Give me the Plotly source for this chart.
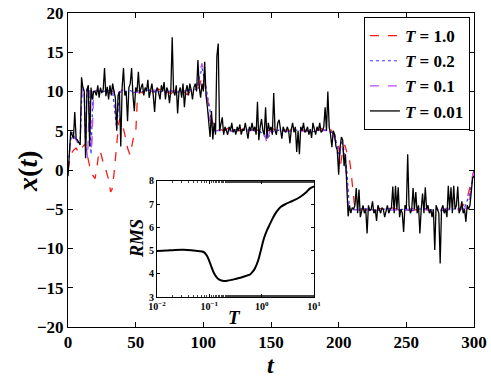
import plotly.graph_objects as go

# time series, T = 0.01 (one sample per unit of t, t = 0..300)
x_t001 = [
    -0.8, 2.0, 4.9, 4.5, 4.0, 7.4, 4.0, 3.8, 3.5, 3.2,
    11.8, 10.5, 10.0, 1.5, 10.2, 10.8, 3.0, 10.5, 9.0, 10.0,
    10.0, 9.5, 10.8, 9.2, 10.5, 9.8, 10.2, 13.0, 9.4, 10.6,
    9.0, 10.8, 9.5, 11.0, 10.0, 9.2, 5.0, 9.5, 10.0, 3.0,
    10.5, 13.0, 9.5, 10.0, 6.2, 10.5, 11.0, 13.0, 9.5, 7.5,
    10.5, 10.0, 12.5, 9.8, 10.5, 11.0, 9.5, 10.5, 10.0, 11.5,
    9.2, 10.0, 11.0, 9.5, 7.4, 10.0, 10.5, 9.8, 9.0, 10.8,
    10.0, 11.2, 9.0, 10.5, 10.0, 8.5, 10.2, 16.9, 10.0, 9.5,
    10.8, 7.2, 10.0, 10.5, 9.2, 11.0, 8.0, 10.0, 10.8, 9.5,
    11.0, 10.2, 9.0, 10.5, 11.0, 10.0, 14.0, 10.5, 9.2, 11.0,
    10.0, 13.8, 9.5, 8.0, 6.5, 4.2, 7.5, 3.9, 6.0, 4.5,
    14.5, 16.1, 5.0, 6.0, 6.7, 4.5, 5.5, 5.0, 4.5, 5.5,
    5.0, 6.0, 4.8, 5.2, 4.5, 5.5, 5.0, 5.8, 4.5, 5.2,
    5.0, 6.0, 4.8, 4.0, 5.5, 5.0, 6.0, 5.0, 5.5, 4.5,
    8.7, 3.8, 5.5, 6.5, 5.0, 4.5, 8.0, 4.0, 6.0, 5.0,
    5.5, 4.5, 9.8, 5.0, 4.5, 6.0, 6.4, 5.0, 4.0, 5.5,
    5.0, 4.8, 5.5, 5.0, 3.4, 5.2, 6.0, 4.8, 5.5, 2.3,
    5.0, 2.0, 5.5, 5.0, 6.0, 4.8, 5.0, 5.5, 4.5, 5.2,
    4.1, 6.0, 5.0, 4.5, 5.5, 5.0, 6.0, 4.8, 5.0, 5.5,
    8.0, 5.0, 10.0, 5.5, 4.5, 2.9, 5.0, 4.5, 3.0, 2.5,
    -0.6, 2.8, 4.2, 3.8, 0.5, 2.0, -2.0, -5.9, -4.5, -5.5,
    -4.8, -5.0, -4.5, -2.3, -5.5, -2.5, -6.0, -5.0, -4.5, -5.5,
    -5.0, -8.1, -4.5, -5.2, -5.0, -4.0, -5.5, -5.0, -6.5, -4.5,
    -5.0, -5.5, -4.8, -5.0, -6.0, -5.0, -4.5, -5.5, -5.0, -4.8,
    -2.1, -5.5, -2.0, -5.0, -2.2, -6.0, -5.0, -5.5, -7.9, -4.5,
    -5.0, 2.0, -4.5, -5.5, -5.0, -2.3, -5.0, -2.8, -5.5, -4.5,
    -8.1, -5.0, -3.0, -5.5, -2.2, -5.0, -4.5, -5.5, -5.0, -6.0,
    -5.0, -10.2, -4.5, -5.0, -5.5, -11.9, -5.0, -4.5, -5.5, -5.0,
    -6.0, -2.0, -5.0, -2.2, -5.5, -2.0, -5.0, -4.5, -2.1, -5.5,
    -5.0, -4.0, -5.5, -5.0, -6.6, -4.5, -5.0, -4.5, -3.0, -1.0,
    -0.8,
]
t_t001 = list(range(len(x_t001)))

# T = 1.0
t_t1 = [0, 2, 4, 6, 8, 10, 12.5, 14.3, 16, 18, 20, 21.5, 23, 24.5, 26, 28, 30, 31.5, 32.5, 34,
        35, 36, 37.5, 38.5, 40, 42, 44, 45.8, 47, 48.5, 50, 51.2, 53, 55, 58, 61, 64, 67, 70, 73,
        76, 79, 82, 85, 88, 91, 94, 97, 99, 101, 103, 105, 107, 109, 112, 115, 118, 121, 124, 127,
        130, 133, 136, 139, 142, 145, 148, 151, 154, 157, 160, 163, 166, 169, 172, 175, 178, 181, 184, 187,
        190, 193, 196, 198, 200, 201.5, 203, 204.5, 206, 207.5, 209, 210.5, 212, 215, 218, 221, 224, 227, 230, 233,
        236, 239, 242, 245, 248, 251, 254, 257, 260, 263, 266, 269, 272, 275, 278, 281, 284, 287, 290, 292,
        294, 296, 298, 300]
x_t1 = [0.0, 2.0, 2.5, 2.8, 2.2, 2.8, 3.3, 1.7, 0.5, -0.6, -1.1, 0.5, 2.5, 2.0, 0.9, 0.0, -1.2, -2.8, -2.5, -0.5,
        1.5, 4.0, 6.0, 6.6, 6.0, 4.5, 2.8, 1.9, 3.0, 4.2, 4.5, 8.9, 10.0, 9.8, 10.2, 9.8, 10.0, 10.3, 9.9, 10.1,
        9.7, 10.2, 9.9, 10.0, 9.6, 10.1, 10.3, 10.5, 12.0, 11.0, 9.0, 7.5, 6.0, 5.5, 5.2, 5.0, 5.3, 4.9, 5.1, 5.0,
        5.3, 4.8, 5.1, 5.0, 5.2, 4.9, 5.0, 5.3, 5.0, 4.8, 5.1, 5.0, 5.2, 4.9, 5.0, 5.1, 4.9, 5.2, 5.0, 5.3,
        5.0, 5.5, 4.6, 4.0, 3.0, 0.8, 2.5, 3.2, 2.3, 2.0, 0.0, -2.5, -5.0, -5.2, -4.9, -5.1, -5.0, -5.3, -4.9, -5.0,
        -5.2, -4.8, -5.0, -5.1, -4.9, -5.0, -5.2, -5.0, -4.9, -5.1, -5.0, -5.4, -5.7, -5.2, -5.0, -4.9, -5.1, -5.0, -4.9, -4.5,
        -4.0, -2.9, -1.5, 0.0]

# T = 0.2
t_t02 = [0, 1.5, 3, 5, 7, 9, 10.5, 12, 13, 14, 15.5, 17, 18.5, 21, 25, 29, 33, 36, 38, 42,
         46, 50, 55, 60, 65, 70, 75, 80, 85, 90, 95, 97.5, 99, 101, 103, 105, 107, 112, 117, 122,
         127, 132, 137, 142, 147, 152, 157, 162, 167, 172, 177, 182, 187, 192, 197, 200, 202, 204, 206, 208,
         213, 218, 223, 228, 233, 238, 243, 248, 253, 258, 263, 268, 273, 278, 283, 288, 293, 297, 300]
x_t02 = [0, 3.2, 4.8, 4.2, 3.5, 3.7, 11.0, 10.0, 3.0, 10.5, 9.8, 2.0, 10.0, 10.1, 9.9, 10.2, 10.0, 5.2, 9.9, 10.0,
         10.1, 9.9, 10.0, 10.2, 9.9, 10.0, 10.1, 9.9, 10.0, 10.2, 10.3, 12.0, 13.0, 11.5, 9.5, 7.0, 5.5, 5.0, 5.1, 4.9,
         5.0, 5.2, 5.0, 4.9, 4.0, 5.0, 5.1, 4.9, 5.0, 5.2, 5.0, 4.9, 5.1, 5.0, 4.6, 2.0, 3.8, 2.5, 0.0, -5.0,
         -5.1, -4.9, -5.0, -5.2, -5.0, -4.9, -5.1, -5.0, -5.2, -5.0, -4.9, -5.1, -5.0, -5.2, -5.0, -4.9, -4.8, -3.0, 0.0]

# T = 0.1
t_t01 = [0, 1.5, 3, 5, 7, 9, 10.5, 12, 13.5, 14.5, 16, 17.5, 19, 22, 25, 28, 31, 34, 36, 37.5,
         40, 44, 48, 52, 56, 60, 64, 68, 72, 76, 80, 84, 88, 92, 96, 97.5, 99, 100.5, 102, 104,
         106, 110, 114, 118, 122, 126, 130, 134, 138, 142, 145, 147, 149, 152, 156, 160, 164, 168, 172, 176,
         180, 184, 188, 192, 196, 198, 200, 202, 204, 206, 207.5, 211, 215, 219, 223, 227, 231, 235, 239, 243,
         247, 251, 255, 259, 263, 267, 271, 275, 279, 283, 287, 291, 295, 297, 298.5, 300]
x_t01 = [0, 3.0, 4.5, 4.0, 3.6, 3.8, 10.5, 10.0, 3.0, 1.5, 10.2, 2.5, 10.0, 10.2, 10.0, 10.3, 9.8, 10.1, 5.5, 9.8,
         10.2, 10.0, 9.8, 10.1, 10.0, 9.9, 10.2, 10.0, 9.8, 10.1, 10.0, 9.9, 10.2, 10.0, 10.5, 12.5, 13.6, 12.0, 10.0, 7.0,
         5.2, 5.0, 5.1, 4.9, 5.0, 5.2, 4.9, 5.0, 5.1, 5.0, 4.8, 3.4, 4.9, 5.0, 5.1, 4.9, 5.0, 5.2, 5.0, 4.9,
         5.0, 5.1, 5.0, 5.2, 4.5, 3.5, 1.0, 3.5, 2.0, -1.0, -5.5, -5.0, -5.1, -4.9, -5.0, -5.2, -5.0, -4.9, -5.1, -5.0,
         -5.4, -5.0, -4.9, -5.1, -5.0, -5.2, -5.0, -5.1, -4.9, -5.0, -5.2, -5.0, -4.8, -3.5, -1.5, 0.5]

# inset: RMS vs T
rms_T = [0.01, 0.015, 0.022, 0.032, 0.045, 0.06, 0.078, 0.089, 0.1, 0.11, 0.12, 0.135, 0.15, 0.17, 0.19,
         0.22, 0.27, 0.33, 0.42, 0.52, 0.6, 0.68, 0.75, 0.85, 0.95, 1.1, 1.25, 1.45, 1.65, 1.9,
         2.3, 2.95, 4.0, 5.4, 7.0, 8.3, 10.0]
rms_v = [4.98, 5.0, 5.03, 5.04, 5.02, 4.98, 4.94, 4.8, 4.55, 4.3, 4.08, 3.88, 3.77, 3.71, 3.69,
         3.70, 3.74, 3.79, 3.85, 3.92, 3.97, 4.1, 4.25, 4.55, 4.95, 5.51, 5.85, 6.16, 6.42, 6.66,
         6.88, 7.02, 7.15, 7.31, 7.5, 7.67, 7.77]
inset_ticks = [0.01, 0.1, 1, 10]
inset_ticktext = ["10<sup>−2</sup>", "10<sup>−1</sup>", "10<sup>0</sup>", "10<sup>1</sup>"]

FONT = "Liberation Serif"

fig = go.Figure()
fig.add_trace(go.Scatter(name="<i>T</i> = 1.0", x=t_t1, y=x_t1, mode="lines",
                         line=dict(color="#ff1a1a", width=1.3, dash="dash")))
fig.add_trace(go.Scatter(name="<i>T</i> = 0.2", x=t_t02, y=x_t02, mode="lines",
                         line=dict(color="#3333ff", width=1.2, dash="dot")))
fig.add_trace(go.Scatter(name="<i>T</i> = 0.1", x=t_t01, y=x_t01, mode="lines",
                         line=dict(color="#b84dff", width=1.3, dash="dash")))
fig.add_trace(go.Scatter(name="<i>T</i> = 0.01", x=t_t001, y=x_t001, mode="lines",
                         line=dict(color="black", width=1.3)))
fig.add_trace(go.Scatter(x=rms_T, y=rms_v, mode="lines", xaxis="x2", yaxis="y2", showlegend=False,
                         line=dict(color="black", width=2, shape="spline")))

axis_common = dict(showline=True, linecolor="black", linewidth=1, mirror="ticks", ticks="inside",
                   tickcolor="black", showgrid=False, zeroline=False, automargin=False)


def label(text, x, y, size, angle=0):
    return dict(text=text, x=x, y=y, xref="paper", yref="paper", showarrow=False, textangle=angle,
                xanchor="center", yanchor="middle", font=dict(size=size, family=FONT, weight="bold"))


fig.update_layout(
    width=491, height=377,
    margin=dict(l=68, r=17, t=13, b=50),
    paper_bgcolor="white", plot_bgcolor="white",
    font=dict(family=FONT, color="black", weight="bold"),
    xaxis=dict(axis_common, range=[0, 300], tickvals=[0, 50, 100, 150, 200, 250, 300], ticklen=5,
               tickfont=dict(size=17, family=FONT, weight="bold")),
    yaxis=dict(axis_common, range=[-20, 20], tickvals=[-20, -15, -10, -5, 0, 5, 10, 15, 20], ticklen=5,
               tickfont=dict(size=17, family=FONT, weight="bold")),
    xaxis2=dict(axis_common, type="log", range=[-2, 1], tickvals=inset_ticks, ticktext=inset_ticktext,
                ticklen=3, domain=[0.219, 0.606], anchor="y2",
                minor=dict(ticks="inside", ticklen=2, tickwidth=0.6, tickcolor="#444"),
                tickfont=dict(size=10, family=FONT, weight="bold")),
    yaxis2=dict(axis_common, range=[3, 8], dtick=1, ticklen=3, domain=[0.0955, 0.465], anchor="x2",
                tickfont=dict(size=10, family=FONT, weight="bold")),
    legend=dict(x=0.99, y=0.987, xanchor="right", yanchor="top", bgcolor="white",
                bordercolor="black", borderwidth=1, font=dict(size=17, family=FONT, weight="bold"),
                tracegroupgap=0, itemwidth=30),
    showlegend=True,
    annotations=[
        label("<i>t</i>", 0.5, -0.12, 24),
        label("<i>x</i>(<i>t</i>)", -0.0985, 0.494, 28, -90),
        label("<i>RMS</i>", 0.170, 0.280, 18, -90),
        label("<i>T</i>", 0.411, 0.029, 19),
    ],
)

# drop the page's default body margin so the figure sits at the window's corner
fig.write_html("out.html", config={"displayModeBar": False},
               post_script="document.body.style.margin = '0';")
